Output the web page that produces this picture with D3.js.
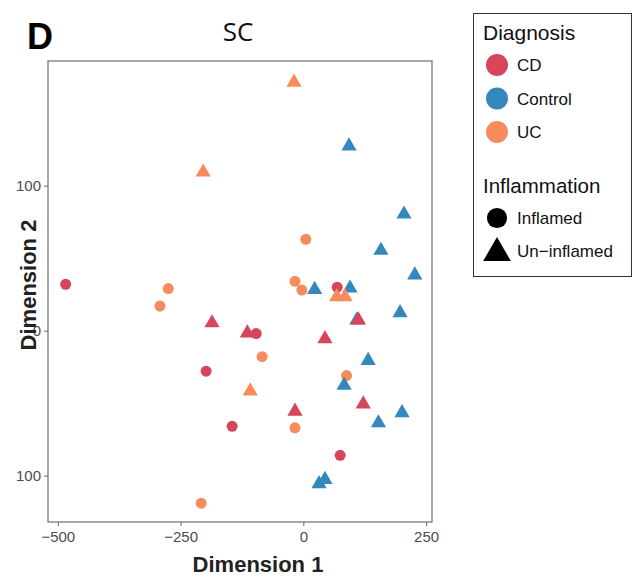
<!DOCTYPE html>
<html>
<head>
<meta charset="utf-8">
<script src="https://cdn.jsdelivr.net/npm/d3@7"></script>
<style>
  body { margin: 0; background: #fff; }
  svg text { font-family: "Liberation Sans", Arial, sans-serif; }
</style>
</head>
<body>
<div id="chart"></div>
<script>
// sample coordinates (drawing order kept for overlaps)
const dim1 = [-275, -292, -208, 5, -17, -3, -84, 88, -17,
              -186, -114, 44, 122, -17,
              -484, -198, -145, -96, 69, 75,
              93, 205, 158, 227, 23, 95, 197, 109, 132, 83, 201, 153, 32, 44,
              -204, -19, 68, 85, -108,
              112];
const dim2 = [29, 17, -119, 63, 34, 28, -18, -31, -67,
              6, -1, -5, -50, -55,
              32, -28, -66, -2, 30, -86,
              128, 81, 56, 39, 29, 30, 13, 8, -20, -37, -56, -63, -105, -102,
              110, 172, 24, 24, -41,
              8];
const diagnosis = ["UC","UC","UC","UC","UC","UC","UC","UC","UC",
                   "CD","CD","CD","CD","CD",
                   "CD","CD","CD","CD","CD","CD",
                   "Control","Control","Control","Control","Control","Control","Control",
                   "Control","Control","Control","Control","Control","Control","Control",
                   "UC","UC","UC","UC","UC",
                   "CD"];
const inflammation = ["Inflamed","Inflamed","Inflamed","Inflamed","Inflamed","Inflamed","Inflamed","Inflamed","Inflamed",
                      "Un-inflamed","Un-inflamed","Un-inflamed","Un-inflamed","Un-inflamed",
                      "Inflamed","Inflamed","Inflamed","Inflamed","Inflamed","Inflamed",
                      "Un-inflamed","Un-inflamed","Un-inflamed","Un-inflamed","Un-inflamed","Un-inflamed","Un-inflamed",
                      "Un-inflamed","Un-inflamed","Un-inflamed","Un-inflamed","Un-inflamed","Un-inflamed","Un-inflamed",
                      "Un-inflamed","Un-inflamed","Un-inflamed","Un-inflamed","Un-inflamed",
                      "Un-inflamed"];

const diagCats = ["CD", "Control", "UC"];
const diagColors = ["#d6455a", "#3388bd", "#f88b5c"];
const inflCats = ["Inflamed", "Un-inflamed"];

const xTicks = [-500, -250, 0, 250];
const xTickLabels = ["\u2212500", "\u2212250", "0", "250"];
const yTicks = [100, 0, -100];
const yTickLabels = ["100", "0", "100"];

let svg = d3.select("#chart").append("svg").attr("width", 633).attr("height", 577);

let pLeft = 48, pRight = 432, pTop = 61, pBottom = 522;

let x = d3.scaleLinear().domain([-520, 262]).range([pLeft, pRight]);
let y = d3.scaleLinear().domain([-132, 186]).range([pBottom, pTop]);
let color = d3.scaleOrdinal().domain(diagCats).range(diagColors);
let shape = d3.scaleOrdinal().domain(inflCats).range([d3.symbolCircle, d3.symbolTriangle]);

// axes
let xAxis = svg.append("g").attr("transform", "translate(0," + pBottom + ")")
  .call(d3.axisBottom(x).tickValues(xTicks).tickSize(4).tickPadding(5)
    .tickFormat((d, i) => xTickLabels[i]));
let yAxis = svg.append("g").attr("transform", "translate(" + pLeft + ",0)")
  .call(d3.axisLeft(y).tickValues(yTicks).tickSize(4).tickPadding(3)
    .tickFormat((d, i) => yTickLabels[i]));
[xAxis, yAxis].forEach(a => {
  a.select(".domain").remove();
  a.selectAll(".tick line").attr("stroke", "#666");
  a.selectAll("text").attr("fill", "#4d4d4d").attr("font-size", 15);
});

// panel border
svg.append("rect").attr("x", pLeft).attr("y", pTop)
  .attr("width", pRight - pLeft).attr("height", pBottom - pTop)
  .attr("fill", "none").attr("stroke", "#6e6e6e").attr("stroke-width", 1.2);

// points
let plotlayer = svg.append("g");
dim1.forEach((d, i) => {
  let isTri = inflammation[i] == "Un-inflamed";
  plotlayer.append("path")
    .attr("d", d3.symbol().type(shape(inflammation[i])).size(isTri ? 100 : 95)())
    .attr("transform", "translate(" + x(d) + "," + (y(dim2[i]) + (isTri ? 1 : 0)) + ")")
    .attr("fill", color(diagnosis[i]));
});

// titles
svg.append("text").attr("x", 27).attr("y", 49).attr("font-size", 36)
  .attr("font-weight", "bold").attr("fill", "#000").text("D");
svg.append("text").attr("x", 238).attr("y", 41).attr("text-anchor", "middle")
  .attr("font-size", 26).attr("fill", "#111")
  .style("font-family", "'Open Sans', sans-serif").text("SC");
svg.append("text").attr("x", 258).attr("y", 572).attr("text-anchor", "middle")
  .attr("font-size", 22).attr("font-weight", "bold").attr("fill", "#222").text("Dimension 1");
svg.append("text").attr("transform", "translate(36,285) rotate(-90)")
  .attr("text-anchor", "middle").attr("font-size", 22).attr("font-weight", "bold")
  .attr("fill", "#222").text("Dimension 2");

// legend
let lg = svg.append("g");
lg.append("rect").attr("x", 473.5).attr("y", 13.5).attr("width", 158).attr("height", 263)
  .attr("fill", "#fff").attr("stroke", "#333").attr("stroke-width", 1);
lg.append("text").attr("x", 483).attr("y", 40).attr("font-size", 21).attr("fill", "#111").text("Diagnosis");
diagCats.forEach((c, i) => {
  let cy = 65 + i * 33.5;
  lg.append("circle").attr("cx", 497).attr("cy", cy).attr("r", 11).attr("fill", color(c));
  lg.append("text").attr("x", 517).attr("y", cy + 6).attr("font-size", 17).attr("fill", "#111").text(c);
});
lg.append("text").attr("x", 483).attr("y", 193).attr("font-size", 20.5).attr("fill", "#111").text("Inflammation");
inflCats.forEach((c, i) => {
  let cy = 218 + i * 33;
  let isTri = c == "Un-inflamed";
  lg.append("path")
    .attr("d", d3.symbol().type(shape(c)).size(isTri ? 330 : 320)())
    .attr("transform", "translate(497," + (cy + (isTri ? 2 : 0)) + ")")
    .attr("fill", "#000");
  lg.append("text").attr("x", 517).attr("y", cy + 6).attr("font-size", 17).attr("fill", "#111")
    .text(c.replace("-", "\u2212"));
});
</script>
</body>
</html>
